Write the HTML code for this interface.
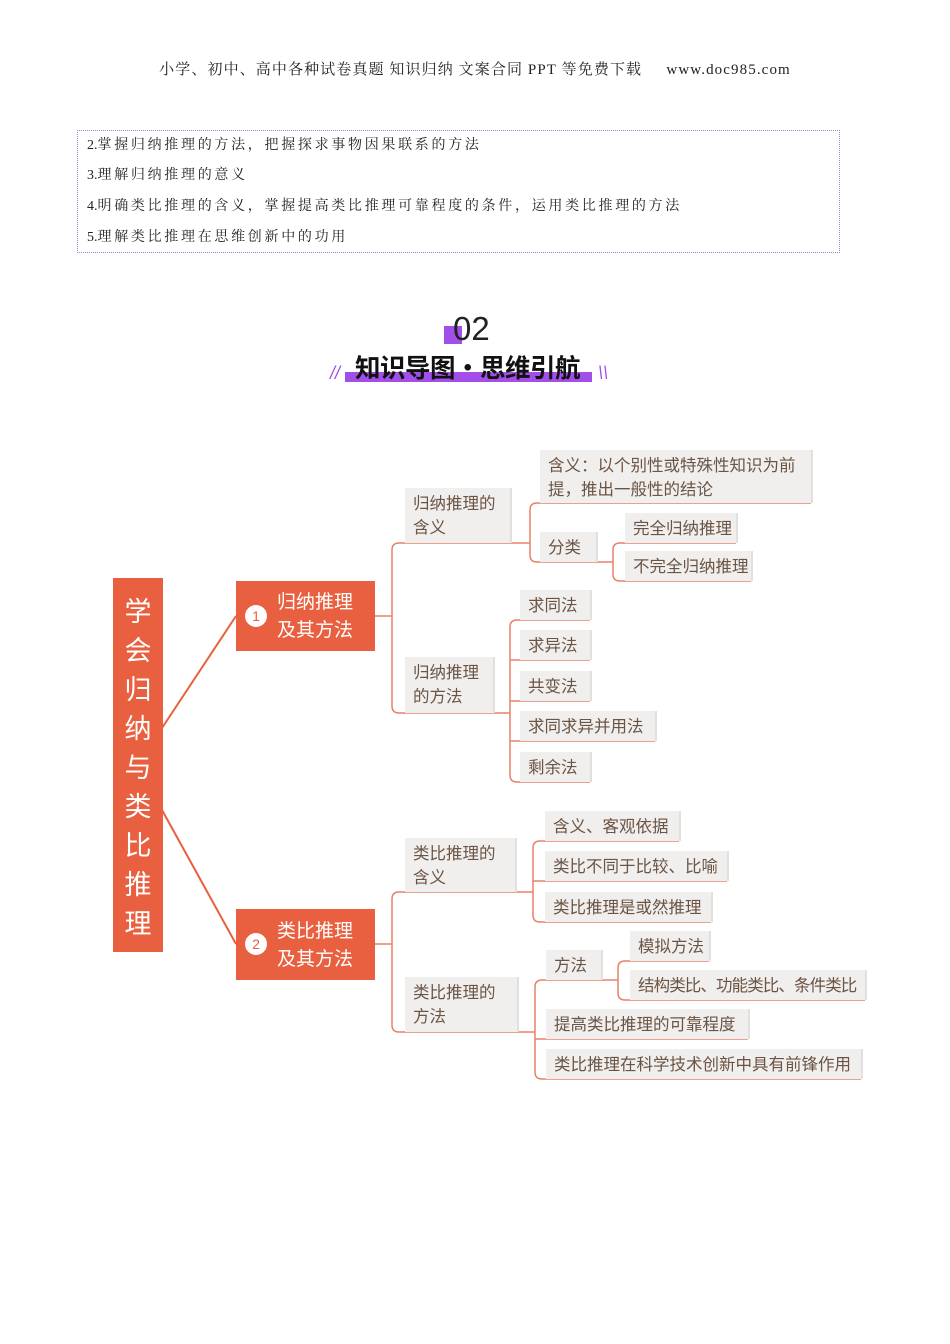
<!DOCTYPE html>
<html><head><meta charset="utf-8">
<style>
*{margin:0;padding:0;box-sizing:border-box}
body{width:950px;height:1344px;background:#fff;position:relative;overflow:hidden;font-family:"Liberation Sans","Noto Sans CJK SC",sans-serif}
.hdr{position:absolute;top:58px;left:0;width:950px;text-align:center;font-family:"Liberation Serif","Noto Serif CJK SC",serif;font-size:15px;letter-spacing:1.1px;color:#222}
.box{position:absolute;left:77px;top:130px;width:763px;height:123px;border:1px dotted #8a8ac8}
.box div{position:absolute;left:9px;font-family:"Liberation Serif","Noto Serif CJK SC",serif;font-size:14px;letter-spacing:2.7px;color:#222;white-space:nowrap}
.box span{letter-spacing:0}
.n{position:absolute;background:#f0efee;color:#6b5444;font-size:16.5px;line-height:24px;padding:3px 4px 3px 8px;white-space:nowrap;overflow:hidden;box-shadow:2px 0 0 #e2e0de}
.o{position:absolute;background:#e8603f;color:#fff}
</style></head><body>
<div class="hdr">小学、初中、高中各种试卷真题 知识归纳 文案合同 PPT 等免费下载&nbsp;&nbsp;&nbsp;&nbsp;&nbsp;www.doc985.com</div>
<div class="box">
<div style="top:3px"><span>2.</span>掌握归纳推理的方法，把握探求事物因果联系的方法</div>
<div style="top:33px"><span>3.</span>理解归纳推理的意义</div>
<div style="top:64px"><span>4.</span>明确类比推理的含义，掌握提高类比推理可靠程度的条件，运用类比推理的方法</div>
<div style="top:95px"><span>5.</span>理解类比推理在思维创新中的功用</div>
</div>
<div style="position:absolute;left:444px;top:326px;width:18px;height:18px;background:#a24ee8"></div>
<div style="position:absolute;left:453px;top:309px;font-size:33px;color:#222;line-height:40px">02</div>
<div style="position:absolute;left:345px;top:372px;width:247px;height:10px;background:#a24ee8"></div>
<div style="position:absolute;left:330px;top:363px;color:#a24ee8;font-size:18px;font-style:italic">//</div>
<div style="position:absolute;left:598px;top:363px;color:#a24ee8;font-size:18px;font-style:italic">\\</div>
<div style="position:absolute;left:355px;top:350px;font-size:25.5px;font-weight:bold;color:#111;line-height:34px;white-space:nowrap;letter-spacing:-0.5px;font-family:'Noto Sans CJK SC',sans-serif">知识导图•思维引航</div>

<svg width="950" height="1344" style="position:absolute;left:0;top:0" fill="none" stroke="#e8806a" stroke-width="1.5">
<line x1="162" y1="728" x2="236" y2="616" stroke="#e8603f" stroke-width="2"/>
<line x1="162" y1="810" x2="236" y2="944" stroke="#e8603f" stroke-width="2"/>
<path d="M375 616H392M392 616V550Q392 543 399 543H510M392 616V706Q392 713 399 713H493"/>
<path d="M375 944H392M392 944V899Q392 892 399 892H515M392 944V1025Q392 1032 399 1032H517"/>
<path d="M510 543H530M530 543V510Q530 503 537 503H811M530 543V555Q530 562 537 562H596"/>
<path d="M596 562H613M613 562V550Q613 543 620 543H736M613 562V574Q613 581 620 581H751"/>
<path d="M493 713H510M510 713V627Q510 620 517 620H590M510 660H590M510 701H590M510 713V741H655M510 713V775Q510 782 517 782H590"/>
<path d="M515 892H533M533 892V848Q533 841 540 841H679M533 881H727M533 892V915Q533 922 540 922H711"/>
<path d="M517 1032H535M535 1032V987Q535 980 542 980H601M535 1032V1039H748M535 1032V1072Q535 1079 542 1079H861"/>
<path d="M601 980H618M618 980V968Q618 961 625 961H709M618 980V993Q618 1000 625 1000H865"/>
</svg>

<div class="o" style="left:113px;top:578px;width:50px;height:374px;font-size:27px;text-align:center;line-height:39px;padding-top:15px">学<br>会<br>归<br>纳<br>与<br>类<br>比<br>推<br>理</div>
<div class="o" style="left:236px;top:581px;width:139px;height:70px;font-size:19px;line-height:28px;padding:8px 0 0 41px">归纳推理<br>及其方法</div>
<div style="position:absolute;left:245px;top:605px;width:22px;height:22px;border-radius:50%;background:#fff;color:#e8603f;font-size:14px;text-align:center;line-height:22px">1</div>
<div class="o" style="left:236px;top:909px;width:139px;height:71px;font-size:19px;line-height:28px;padding:9px 0 0 41px">类比推理<br>及其方法</div>
<div style="position:absolute;left:245px;top:933px;width:22px;height:22px;border-radius:50%;background:#fff;color:#e8603f;font-size:14px;text-align:center;line-height:22px">2</div>

<div class="n" style="left:405px;top:488px;width:105px;height:55px;padding-top:4px">归纳推理的<br>含义</div>
<div class="n" style="left:405px;top:657px;width:88px;height:56px;padding-top:4px">归纳推理<br>的方法</div>
<div class="n" style="left:405px;top:838px;width:110px;height:54px;padding-top:4px">类比推理的<br>含义</div>
<div class="n" style="left:405px;top:977px;width:112px;height:55px;padding-top:4px">类比推理的<br>方法</div>

<div class="n" style="left:540px;top:450px;width:271px;height:53px;padding-top:4px">含义：以个别性或特殊性知识为前<br>提，推出一般性的结论</div>
<div class="n" style="left:540px;top:532px;width:56px;height:30px;padding-top:4px">分类</div>
<div class="n" style="left:625px;top:513px;width:111px;height:30px;padding-top:4px">完全归纳推理</div>
<div class="n" style="left:625px;top:551px;width:126px;height:30px;padding-top:4px">不完全归纳推理</div>

<div class="n" style="left:520px;top:590px;width:70px;height:30px;padding-top:4px">求同法</div>
<div class="n" style="left:520px;top:630px;width:70px;height:30px;padding-top:4px">求异法</div>
<div class="n" style="left:520px;top:671px;width:70px;height:30px;padding-top:4px">共变法</div>
<div class="n" style="left:520px;top:711px;width:135px;height:30px;padding-top:4px">求同求异并用法</div>
<div class="n" style="left:520px;top:752px;width:70px;height:30px;padding-top:4px">剩余法</div>

<div class="n" style="left:545px;top:811px;width:134px;height:30px;padding-top:4px">含义、客观依据</div>
<div class="n" style="left:545px;top:851px;width:182px;height:30px;padding-top:4px">类比不同于比较、比喻</div>
<div class="n" style="left:545px;top:892px;width:166px;height:30px;padding-top:4px">类比推理是或然推理</div>

<div class="n" style="left:546px;top:950px;width:55px;height:30px;padding-top:4px">方法</div>
<div class="n" style="left:630px;top:931px;width:79px;height:30px;padding-top:4px">模拟方法</div>
<div class="n" style="left:630px;top:970px;width:235px;height:30px;padding-top:4px;letter-spacing:-0.9px">结构类比、功能类比、条件类比</div>
<div class="n" style="left:546px;top:1009px;width:202px;height:30px;padding-top:4px">提高类比推理的可靠程度</div>
<div class="n" style="left:546px;top:1049px;width:315px;height:30px;padding-top:4px">类比推理在科学技术创新中具有前锋作用</div>
</body></html>
